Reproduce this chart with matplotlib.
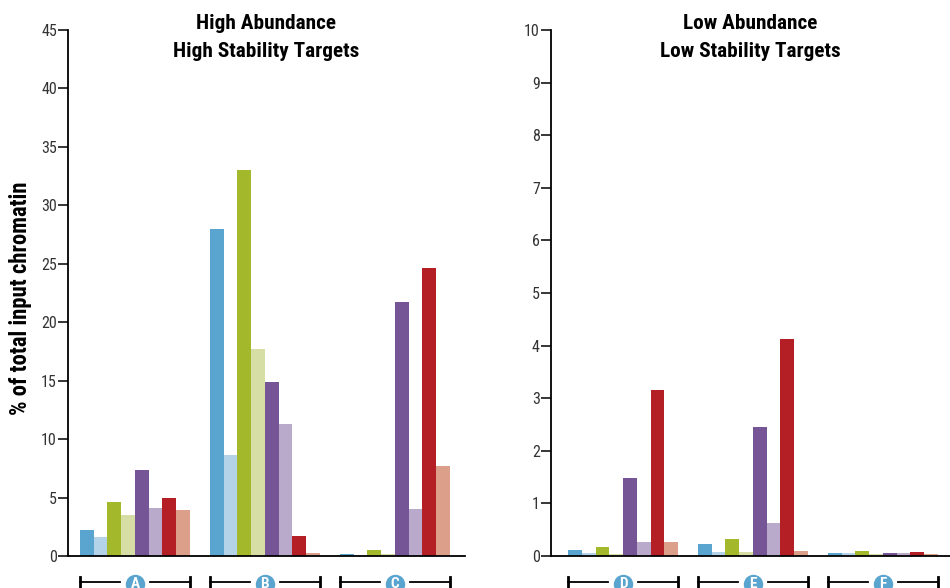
import matplotlib
matplotlib.use("Agg")
import matplotlib.pyplot as plt
import matplotlib.transforms as mtransforms
import numpy as np

plt.rcParams['font.family'] = ['Roboto Condensed', 'DejaVu Sans']

colors = ["#5aa5cf", "#b5d3e8", "#a3b92b", "#d6dea6",
          "#765596", "#b9aacc", "#b41f26", "#dca08a"]

# high abundance / high stability targets
high_groups = ["A", "B", "C"]
high_vals = [
    [2.2, 1.6, 4.6, 3.5, 7.4, 4.1, 4.95, 3.9],
    [28.0, 8.6, 33.0, 17.7, 14.9, 11.3, 1.7, 0.25],
    [0.15, 0.05, 0.5, 0.15, 21.7, 4.0, 24.6, 7.7],
]

# low abundance / low stability targets
low_groups = ["D", "E", "F"]
low_vals = [
    [0.12, 0.05, 0.18, 0.03, 1.48, 0.26, 3.15, 0.26],
    [0.22, 0.07, 0.33, 0.07, 2.45, 0.62, 4.13, 0.09],
    [0.05, 0.05, 0.10, 0.03, 0.05, 0.05, 0.08, 0.03],
]

group_step = 9.45
n_bars = 8


def draw_panel(ax, vals, groups, ymax, yticks, title, x0, x1):
    for g, row in enumerate(vals):
        xs = g * group_step + np.arange(n_bars)
        ax.bar(xs, row, width=1.0, align="edge", color=colors, linewidth=0)

    ax.set_xlim(x0, x1)
    ax.set_ylim(0, ymax)
    ax.set_yticks(yticks)
    ax.set_xticks([])
    for s in ["top", "right"]:
        ax.spines[s].set_visible(False)
    ax.spines["left"].set_linewidth(1.3)
    ax.spines["bottom"].set_linewidth(1.3)
    ax.tick_params(axis="y", length=7, width=1.1, pad=1, labelsize=11.5,
                   labelcolor="#333333")

    ax.text(0.5, 1.031, title, transform=ax.transAxes, ha="center", va="top",
            fontsize=15.3, fontweight="bold", linespacing=1.6)

    # group brackets with lettered badges under the baseline
    trans = mtransforms.blended_transform_factory(ax.transData, ax.transAxes)
    yb = -0.0494
    for g, name in enumerate(groups):
        left = g * group_step
        right = left + n_bars
        mid = (left + right) / 2
        ax.plot([left, mid - 1.1], [yb, yb], color="black", lw=1.3,
                transform=trans, clip_on=False)
        ax.plot([mid + 1.1, right], [yb, yb], color="black", lw=1.3,
                transform=trans, clip_on=False)
        for xe in (left, right):
            ax.plot([xe, xe], [yb - 0.01, yb + 0.01], color="black", lw=2,
                    transform=trans, clip_on=False)
        ax.plot([mid], [yb - 0.004], marker="o", markersize=14, color="#5aa5cf",
                markeredgewidth=0, transform=trans, clip_on=False)
        ax.text(mid, yb - 0.004, name, transform=trans, ha="center", va="center",
                color="white", fontsize=11, fontweight="bold", clip_on=False)


fig = plt.figure(figsize=(9.5, 5.88), dpi=100)

ax1 = fig.add_axes([68 / 950, 1 - 556 / 588, 397 / 950, 526 / 588])
draw_panel(ax1, high_vals, high_groups, 45, np.arange(0, 46, 5),
           "High Abundance\nHigh Stability Targets", -0.87, 28.0)

ax2 = fig.add_axes([551 / 950, 1 - 556 / 588, 399 / 950, 526 / 588])
draw_panel(ax2, low_vals, low_groups, 10, np.arange(0, 11, 1),
           "Low Abundance\nLow Stability Targets", -1.24, 27.78)

fig.text(21 / 950, 1 - 298 / 588, "% of total input chromatin", rotation=90,
         ha="center", va="center", fontsize=16.3, fontweight="bold")

fig.savefig("out.png", dpi=100)
